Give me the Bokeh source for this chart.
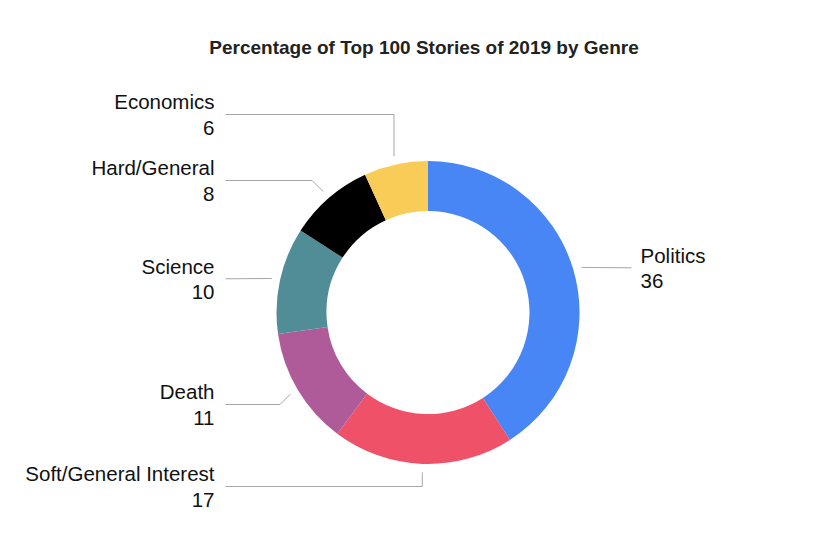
import math
from bokeh.plotting import figure
from bokeh.models import ColumnDataSource, Range1d, Label
from bokeh.core.properties import value
from bokeh.embed import file_html
from bokeh.resources import INLINE

# ---- data ----
genres = ["Politics", "Soft/General Interest", "Death", "Science", "Hard/General", "Economics"]
counts = [36, 17, 11, 10, 8, 6]
colors = ["#4886F5", "#EF5169", "#B05B99", "#518D97", "#000000", "#F9CC57"]

# ---- layout (pixels, screen coords with y down) ----
W, H = 818, 548
CX, CY = 427.5, 312.0
R_OUT, R_IN = 151.5, 101.5
R_ANCHOR = 160.0
# y of each leader line's horizontal part (layout), side of label
label_line_y = [267.3, 486.0, 404.0, 278.3, 180.0, 114.0]
label_side = ["right", "left", "left", "left", "left", "left"]
LEFT_LINE_END, RIGHT_LINE_END = 225.0, 631.0
FONT = "Liberation Sans"

def fy(py):
    return H - py

total = float(sum(counts))
starts, ends, mids = [], [], []
acc = 0.0
for c in counts:
    t1 = acc / total * 360.0
    acc += c
    t2 = acc / total * 360.0
    # clockwise from top -> bokeh angle
    starts.append(math.radians(90.0 - t2))
    ends.append(math.radians(90.0 - t1))
    mids.append((t1 + t2) / 2.0)

p = figure(width=W, height=H, output_backend="svg", toolbar_location=None,
           x_range=Range1d(0, W), y_range=Range1d(0, H), min_border=0)
p.axis.visible = False
p.grid.visible = False
p.outline_line_color = None
p.background_fill_color = "white"
p.border_fill_color = "white"

src = ColumnDataSource(dict(x=[CX] * len(counts), y=[fy(CY)] * len(counts),
                            start=starts, end=ends, color=colors, genre=genres, count=counts))
p.annular_wedge(x="x", y="y", inner_radius=R_IN, outer_radius=R_OUT,
                start_angle="start", end_angle="end", direction="anticlock",
                fill_color="color", line_color=None, source=src)

# leader lines
xs, ys = [], []
tx, ty, ttext, talign = [], [], [], []
for g, c, m, ly, side in zip(genres, counts, mids, label_line_y, label_side):
    th = math.radians(m)
    ax = CX + R_ANCHOR * math.sin(th)
    ay = CY - R_ANCHOR * math.cos(th)
    dy = ly - ay
    pts_x, pts_y = [ax], [ay]
    if abs(dy) > 0.8:
        if abs(dy) < 12.5:
            ex = ax - abs(dy) if side == "left" else ax + abs(dy)
        else:
            ex = ax
        pts_x.append(ex)
        pts_y.append(ly)
    end_x = LEFT_LINE_END if side == "left" else RIGHT_LINE_END
    pts_x.append(end_x)
    pts_y.append(ly)
    xs.append(pts_x)
    ys.append([fy(v) for v in pts_y])
    if side == "left":
        lx, al = end_x - 11, "right"
    else:
        lx, al = end_x + 9, "left"
    tx += [lx, lx]
    ty += [fy(ly - 12.8), fy(ly + 13.4)]
    ttext += [g, str(c)]
    talign += [al, al]

p.multi_line(xs=xs, ys=ys, line_color="#A6A6A6", line_width=1)

tsrc = ColumnDataSource(dict(x=tx, y=ty, text=ttext, align=talign))
p.text(x="x", y="y", text="text", text_align="align", text_baseline="middle",
       text_font=value(FONT), text_font_size="20.5px", text_color="#111111", source=tsrc)

title = Label(x=423.5, y=fy(47), text="Percentage of Top 100 Stories of 2019 by Genre",
              text_align="center", text_baseline="middle", text_font=FONT,
              text_font_size="19px", text_font_style="bold", text_color="#222222")
p.add_layout(title)

open("out.html", "w").write(file_html(p, INLINE))
